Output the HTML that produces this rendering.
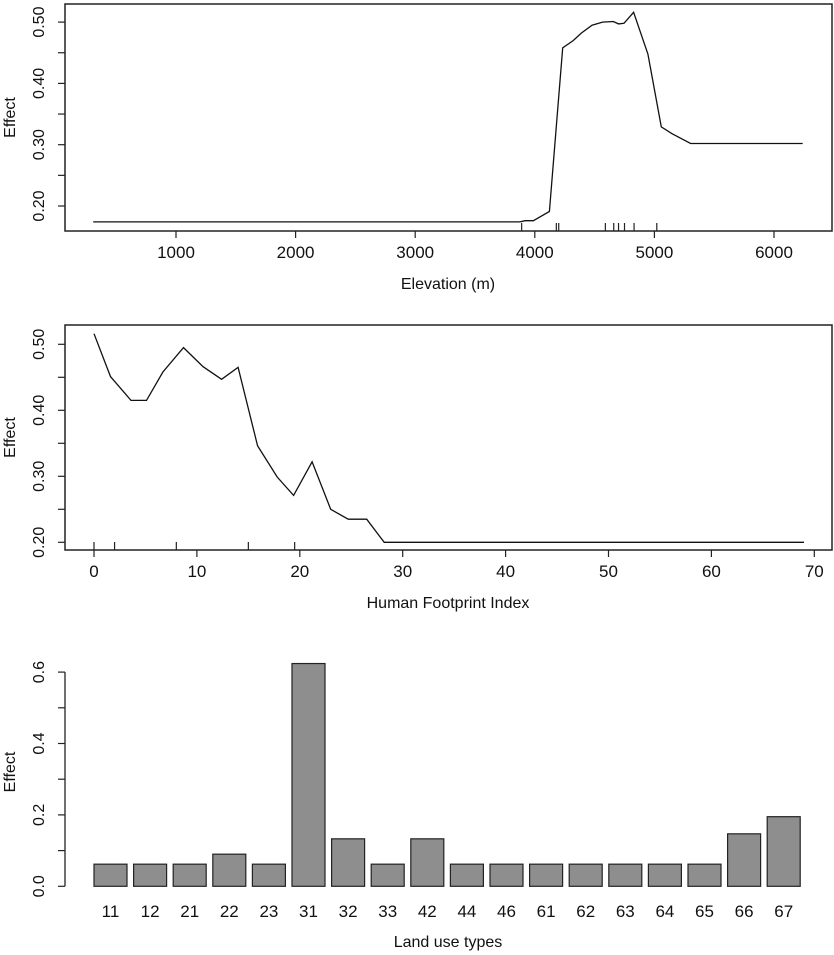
<!DOCTYPE html>
<html><head><meta charset="utf-8"><style>
html,body{margin:0;padding:0;background:#fff;}
svg{display:block;font-family:"Liberation Sans",Arial,sans-serif;}
text{fill:#111;}
</style></head><body>
<svg id="chart" width="834" height="955" viewBox="0 0 834 955"></svg>
<script>
// Panel 1: Elevation
const elevX = [308,3875,3920,3988,4122,4233,4322,4389,4478,4567,4656,4701,4746,4826,4946,5058,5147,5303,6240];
const elevY = [0.174,0.174,0.176,0.176,0.191,0.458,0.470,0.482,0.495,0.500,0.501,0.497,0.498,0.516,0.448,0.329,0.318,0.302,0.302];
const elevRug = [3890,4180,4200,4590,4660,4700,4750,4830,5020];
const elevXTicks = [1000,2000,3000,4000,5000,6000];
const elevYTicks = [0.2,0.3,0.4,0.5];
const elevYMinor = [0.25,0.35,0.45];
// Panel 2: Human footprint
const hfiX = [0,1.6,3.6,5.1,6.7,8.7,10.6,12.4,14.0,15.9,17.8,19.4,21.2,23.0,24.7,26.5,28.2,69];
const hfiY = [0.516,0.451,0.415,0.415,0.458,0.495,0.466,0.447,0.465,0.346,0.299,0.271,0.322,0.250,0.235,0.235,0.200,0.200];
const hfiRug = [0,2,8,15,19.5];
const hfiXTicks = [0,10,20,30,40,50,60,70];
const hfiYTicks = [0.2,0.3,0.4,0.5];
const hfiYMinor = [0.25,0.35,0.45];
// Panel 3: Land use
const landCats = ["11","12","21","22","23","31","32","33","42","44","46","61","62","63","64","65","66","67"];
const landVals = [0.062,0.062,0.062,0.09,0.062,0.624,0.133,0.062,0.133,0.062,0.062,0.062,0.062,0.062,0.062,0.062,0.147,0.195];
const landYTicks = [0.0,0.2,0.4,0.6];
const landYMinor = [0.1,0.3,0.5];

const svg = document.getElementById('chart');
const NS = 'http://www.w3.org/2000/svg';
function mk(tag, attrs, parent){
  const e = document.createElementNS(NS, tag);
  for (const k in attrs) e.setAttribute(k, attrs[k]);
  (parent||svg).appendChild(e);
  return e;
}
function txt(x,y,s,size,rot,anchor){
  const t = mk('text',{x:x,y:y,'font-size':size,'text-anchor':anchor||'middle'});
  if (rot) t.setAttribute('transform','rotate(-90 '+x+' '+y+')');
  t.textContent = s;
  return t;
}

function linePanel(cfg){
  const g = mk('g',{});
  
  
  const sx = v => cfg.x0 + (v - cfg.xv0) * cfg.xs;
  const sy = v => cfg.y0 - (v - cfg.yv0) * cfg.ys;
  const box = mk('rect',{x:65,y:cfg.top,width:767,height:cfg.bottom-cfg.top,fill:'none',stroke:'#222','stroke-width':1.5},g);
  
  
  cfg.xTicks.forEach(v=>{
    mk('line',{x1:sx(v),x2:sx(v),y1:cfg.bottom,y2:cfg.bottom+7,stroke:'#222','stroke-width':1.2},g);
    const t = txt(sx(v), cfg.bottom+27, String(v), 17);
    g.appendChild(t);
    
    
  });
  cfg.yTicks.forEach(v=>{
    mk('line',{x1:58,x2:65,y1:sy(v),y2:sy(v),stroke:'#222','stroke-width':1.2},g);
    const t = txt(44, sy(v), v.toFixed(2), 16, true);
    g.appendChild(t);
    
    
  });
  cfg.yMinor.forEach(v=>{
    mk('line',{x1:58,x2:65,y1:sy(v),y2:sy(v),stroke:'#222','stroke-width':1.2},g);
  });
  cfg.rug.forEach(v=>{
    const r = mk('line',{x1:sx(v),x2:sx(v),y1:cfg.bottom,y2:cfg.bottom-8,stroke:'#222','stroke-width':1.2},g);
    
    
  });
  const pts = cfg.xs_.map((v,i)=>sx(v).toFixed(1)+','+sy(cfg.ys_[i]).toFixed(1)).join(' ');
  const pl = mk('polyline',{points:pts,fill:'none',stroke:'#111','stroke-width':1.3},g);
  
  
  const xl = txt(448, cfg.bottom+58, cfg.xTitle, 16);
  g.appendChild(xl);
  
  
  const yl = txt(15, (cfg.top+cfg.bottom)/2, 'Effect', 16, true);
  g.appendChild(yl);
  
  
}

linePanel({name:'elevation-panel',top:4,bottom:231,x0:56.4,xv0:0,xs:0.1196,y0:206,yv0:0.2,ys:613,
  xTicks:elevXTicks,yTicks:elevYTicks,yMinor:elevYMinor,rug:elevRug,xs_:elevX,ys_:elevY,xTitle:'Elevation (m)'});
linePanel({name:'human-footprint-panel',top:325,bottom:550,x0:94,xv0:0,xs:10.29,y0:542.3,yv0:0.2,ys:660,
  xTicks:hfiXTicks,yTicks:hfiYTicks,yMinor:hfiYMinor,rug:hfiRug,xs_:hfiX,ys_:hfiY,xTitle:'Human Footprint Index'});

(function(){
  const g = mk('g',{});
  
  
  const y0 = 886.3, ys = 357;
  const sy = v => y0 - v*ys;
  const bx = i => 94 + i*39.6;
  const bw = 33;
  mk('line',{x1:65,x2:65,y1:sy(0),y2:sy(0.6),stroke:'#222','stroke-width':1.3},g);
  landYTicks.forEach(v=>{
    mk('line',{x1:58,x2:65,y1:sy(v),y2:sy(v),stroke:'#222','stroke-width':1.2},g);
    const t = txt(44, sy(v), v.toFixed(1), 16, true);
    g.appendChild(t);
    
    
  });
  landYMinor.forEach(v=>{
    mk('line',{x1:58,x2:65,y1:sy(v),y2:sy(v),stroke:'#222','stroke-width':1.2},g);
  });
  landVals.forEach((v,i)=>{
    const r = mk('rect',{x:bx(i),y:sy(v),width:bw,height:sy(0)-sy(v),fill:'#8e8e8e',stroke:'#222','stroke-width':1.2},g);
    
    
    const t = txt(bx(i)+bw/2, 917, landCats[i], 17);
    g.appendChild(t);
    
    
  });
  const xl = txt(448, 947, 'Land use types', 16);
  g.appendChild(xl);
  
  
  const yl = txt(15, 772, 'Effect', 16, true);
  g.appendChild(yl);
  
  
})();
</script>
</body></html>
